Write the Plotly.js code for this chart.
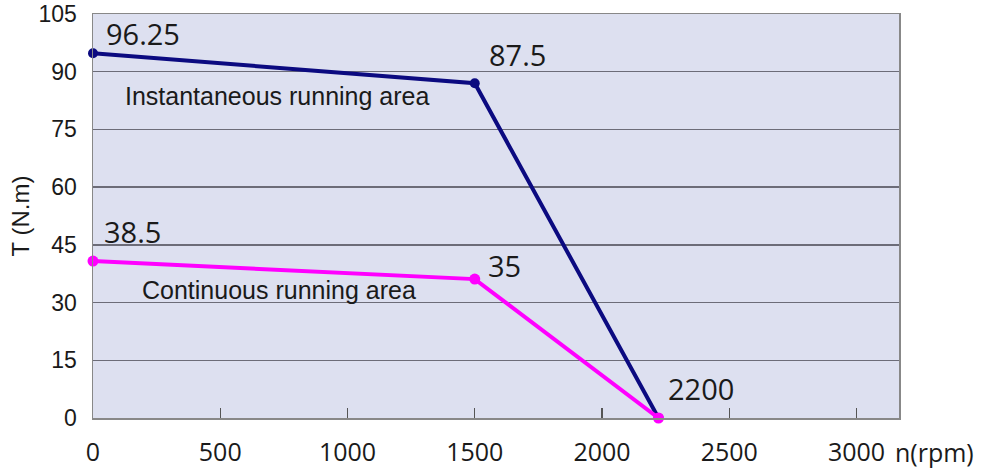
<!DOCTYPE html>
<html>
<head>
<meta charset="utf-8">
<script src="https://cdn.plot.ly/plotly-3.0.1.min.js"></script>
<style>html,body{margin:0;padding:0;background:#fff;}#chart{width:987px;height:470px;}</style>
</head>
<body>
<div id="chart"></div>
<script>
// Data
const speed = [0, 1500, 2222];
const instantTorque = [94.8, 87.0, 0];
const continuousTorque = [40.8, 36.1, 0];
const instantLabels = ["96.25", "87.5", ""];
const continuousLabels = ["38.5", "35", "2200"];
const xTicks = [0, 500, 1000, 1500, 2000, 2500, 3000];
const yTicks = [0, 15, 30, 45, 60, 75, 90, 105];
const areaNames = ["Instantaneous running area", "Continuous running area"];

const traces = [
  {x: speed, y: instantTorque, mode: "lines+markers", line: {color: "#0b0a80", width: 4}, marker: {color: "#0b0a80", size: 10}, cliponaxis: false, hoverinfo: "none"},
  {x: speed, y: continuousTorque, mode: "lines+markers", line: {color: "#ff00ff", width: 4}, marker: {color: "#ff00ff", size: 11}, cliponaxis: false, hoverinfo: "none"}
];

const numFont = {family: "Open Sans", size: 29, color: "#1a1a1a"};
const annotations = [];
const instShift = [[11, 20], [12, 29]];
const contShift = [[9, 30], [11, 14], [7, 30]];
instantLabels.forEach((t, i) => {
  if (!t) return;
  annotations.push({x: speed[i], y: instantTorque[i], text: t, showarrow: false, xanchor: "left", yanchor: "middle", xshift: instShift[i][0], yshift: instShift[i][1], font: numFont});
});
continuousLabels.forEach((t, i) => {
  annotations.push({x: speed[i], y: continuousTorque[i], text: t, showarrow: false, xanchor: "left", yanchor: "middle", xshift: contShift[i][0], yshift: contShift[i][1], font: numFont});
});
const areaFont = {family: "Liberation Sans", size: 25, color: "#1a1a1a"};
annotations.push({x: speed[0], y: instantTorque[1], text: areaNames[0], showarrow: false, xanchor: "left", yanchor: "middle", xshift: 30, yshift: -13, font: areaFont});
annotations.push({x: speed[0], y: continuousTorque[1], text: areaNames[1], showarrow: false, xanchor: "left", yanchor: "middle", xshift: 47, yshift: -11, font: areaFont});
annotations.push({x: xTicks[xTicks.length - 1], xref: "x", y: 0, yref: "paper", text: "n(rpm)", showarrow: false, xanchor: "left", yanchor: "middle", xshift: 36, yshift: -34, font: {family: "Open Sans", size: 25, color: "#1a1a1a"}});

const layout = {
  width: 987, height: 470,
  margin: {l: 93, r: 88, t: 14, b: 52},
  paper_bgcolor: "#ffffff",
  plot_bgcolor: "#dde0f0",
  showlegend: false,
  xaxis: {range: [0, 3167], tickvals: xTicks, ticktext: xTicks.map(String), ticks: "inside", ticklen: 10, tickcolor: "#555", tickwidth: 1.2,
          showgrid: false, zeroline: false, showline: true, linecolor: "#888", linewidth: 1.5, mirror: true,
          tickfont: {family: "Open Sans", size: 25, color: "#1a1a1a"}, ticklabelstandoff: 11, fixedrange: true},
  yaxis: {range: [0, 105], tickvals: yTicks, ticks: "", showgrid: true, gridcolor: "#6c6c78", gridwidth: 1.5, zeroline: false,
          showline: true, linecolor: "#888", linewidth: 1.5, mirror: true,
          tickfont: {family: "Liberation Sans", size: 23, color: "#1a1a1a"}, ticklabelstandoff: 10,
          title: {text: "T (N.m)", font: {family: "Liberation Sans", size: 24, color: "#1a1a1a"}, standoff: 2}, fixedrange: true},
  annotations: annotations
};

Plotly.newPlot("chart", traces, layout, {displayModeBar: false, staticPlot: true});
</script>
</body>
</html>
